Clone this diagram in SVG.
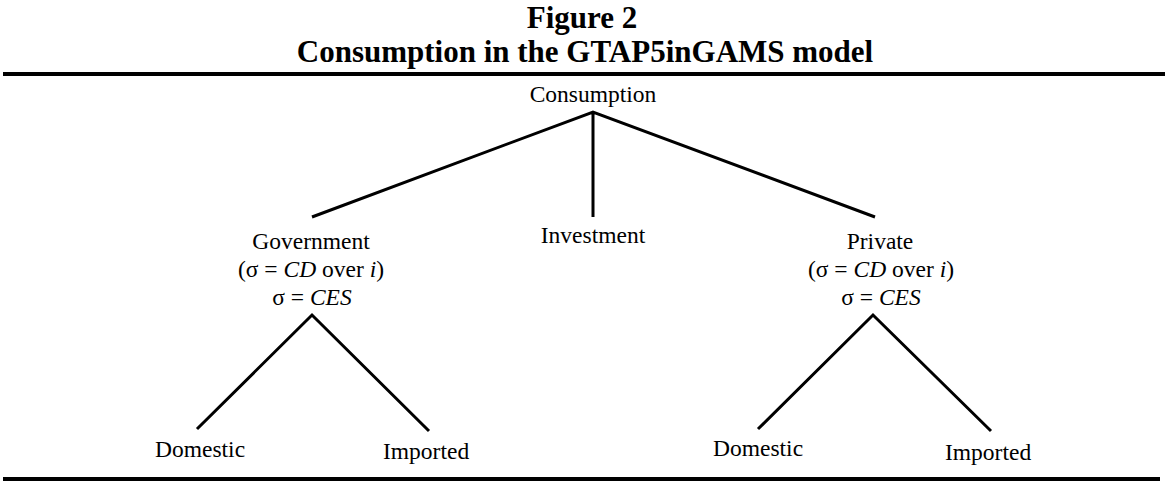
<svg xmlns="http://www.w3.org/2000/svg" width="1168" height="483" viewBox="0 0 1168 483">
<style>
text{font-family:"Liberation Serif","Times New Roman",serif;fill:#000}
.t{font-size:31px;font-weight:bold;text-anchor:middle}
.n{font-size:23.5px}
.c{text-anchor:middle}
.i{font-style:italic}
.e{stroke:#000;stroke-width:3;fill:none;stroke-linecap:butt}
.r{stroke:#000;stroke-width:4}
</style>
<rect width="1168" height="483" fill="#fff"/>
<g id="title">
<text class="t" x="582" y="28">Figure 2</text>
<text class="t" x="585" y="62">Consumption in the GTAP5inGAMS model</text>
<line class="r" x1="3" y1="74" x2="1165" y2="74"/>
</g>
<g id="connectors">
<path class="e" d="M312,217 L593,112 L875,217 M593,112 L593,217"/>
<path class="e" d="M197,429 L312,315 L429,431"/>
<path class="e" d="M758,429 L873,315 L991,431"/>
</g>
<g id="consumption"><text class="n c" x="593" y="102">Consumption</text></g>
<g id="government">
<text class="n c" x="311" y="249">Government</text>
<text class="n c" x="311" y="277">(σ = <tspan class="i">CD</tspan> over <tspan class="i">i</tspan>)</text>
<text class="n c" x="312" y="305">σ = <tspan class="i">CES</tspan></text>
</g>
<g id="investment"><text class="n c" x="593" y="243">Investment</text></g>
<g id="private">
<text class="n c" x="880" y="249">Private</text>
<text class="n c" x="881" y="277">(σ = <tspan class="i">CD</tspan> over <tspan class="i">i</tspan>)</text>
<text class="n c" x="881" y="305">σ = <tspan class="i">CES</tspan></text>
</g>
<g id="gov-domestic"><text class="n" x="155" y="457">Domestic</text></g>
<g id="gov-imported"><text class="n" x="383" y="459">Imported</text></g>
<g id="priv-domestic"><text class="n" x="713" y="456">Domestic</text></g>
<g id="priv-imported"><text class="n" x="945" y="460">Imported</text></g>
<g id="bottom-rule"><line class="r" x1="3" y1="479" x2="1160" y2="479"/></g>
</svg>
